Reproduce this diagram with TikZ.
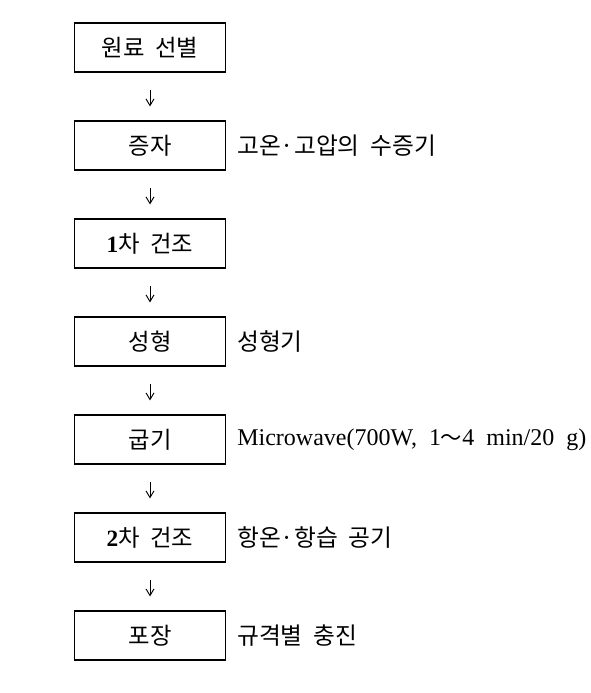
\documentclass[tikz,border=0pt]{standalone}
\usepackage{fontspec}
\setmainfont{Liberation Serif}
\newfontfamily\kr{Noto Sans CJK KR}
\usetikzlibrary{arrows.meta}
\begin{document}
\begin{tikzpicture}[x=0.75pt,y=-0.75pt,
  stepbox/.style={draw,line width=0.8pt,minimum width=113.25pt,minimum height=36.75pt,inner sep=0pt,font=\kr\fontsize{17.5pt}{20pt}\selectfont},
  side/.style={anchor=west,inner sep=0pt,font=\kr\fontsize{17.8pt}{20pt}\selectfont},
  arr/.style={-{Straight Barb[length=5pt,width=6pt]},line width=0.7pt,shorten <=13pt,shorten >=10.5pt}]
\useasboundingbox (0,0) rectangle (590,693);
\node[stepbox] (b1) at (150,47.5) {원료\ \ 선별};
\node[stepbox] (b2) at (150,145.5) {증자};
\node[stepbox] (b3) at (150,243.5) {{\rmfamily\bfseries 1}차\ \ 건조};
\node[stepbox] (b4) at (150,341.5) {성형};
\node[stepbox] (b5) at (150,439.5) {굽기};
\node[stepbox] (b6) at (150,537.5) {{\rmfamily\bfseries 2}차\ \ 건조};
\node[stepbox] (b7) at (150,635.5) {포장};
\node[side] (s2) at (237,145.5) {고온·고압의\ \ 수증기};
\node[side] (s4) at (237,341.5) {성형기};
\node[side,font=\rmfamily\fontsize{18pt}{21pt}\selectfont] (s5) at (237,439.5) {Microwave(700W,\ \ 1{\kr\fontsize{16pt}{18pt}\selectfont ～}4\ \ min/20\ \ g)};
\node[side] (s6) at (237,537.5) {항온·항습\ \ 공기};
\node[side] (s7) at (237,635.5) {규격별\ \ 충진};
\draw[arr] (b1) -- (b2);
\draw[arr] (b2) -- (b3);
\draw[arr] (b3) -- (b4);
\draw[arr] (b4) -- (b5);
\draw[arr] (b5) -- (b6);
\draw[arr] (b6) -- (b7);
\end{tikzpicture}
\end{document}
